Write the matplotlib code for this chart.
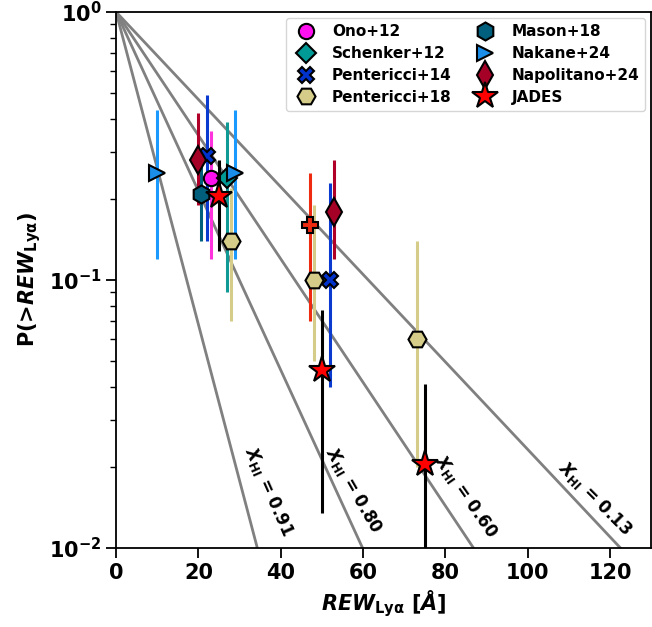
import numpy as np
import matplotlib
matplotlib.use("Agg")
import matplotlib.pyplot as plt

plt.rcParams['font.family'] = 'DejaVu Sans'
plt.rcParams['font.weight'] = 'bold'
plt.rcParams['mathtext.fontset'] = 'custom'
plt.rcParams['mathtext.rm'] = 'DejaVu Sans:bold'
plt.rcParams['mathtext.bf'] = 'DejaVu Sans:bold'
plt.rcParams['mathtext.it'] = 'DejaVu Sans:italic:bold'

# model curves: P(>W) = exp(-W / W0)
xhi_values = [0.91, 0.80, 0.60, 0.13]
w0_values = [7.45, 13.0, 18.85, 26.6]
label_x = [37.1, 57.6, 84.9, 116.2]
label_y = [0.0162, 0.0164, 0.0155, 0.0153]
label_rot = [-66, -60, -55, -45]

# observations (x, y, lower, upper)
ono_x = [23]
ono_y = [0.24]
ono_lo = [0.12]
ono_hi = [0.36]

schenker_x = [27]
schenker_y = [0.24]
schenker_lo = [0.09]
schenker_hi = [0.39]

pent14_x = [22, 52]
pent14_y = [0.29, 0.10]
pent14_lo = [0.14, 0.04]
pent14_hi = [0.49, 0.23]

pent18_x = [28, 48, 73]
pent18_y = [0.14, 0.10, 0.06]
pent18_lo = [0.07, 0.05, 0.02]
pent18_hi = [0.22, 0.19, 0.14]

mason_x = [20.7]
mason_y = [0.21]
mason_lo = [0.14]
mason_hi = [0.30]

nakane_x = [10, 28.8]
nakane_y = [0.25, 0.25]
nakane_lo = [0.12, 0.12]
nakane_hi = [0.43, 0.43]

napol_x = [20, 53]
napol_y = [0.28, 0.18]
napol_lo = [0.19, 0.12]
napol_hi = [0.42, 0.28]

other_x = [47]
other_y = [0.16]
other_lo = [0.07]
other_hi = [0.25]

jades_x = [25, 50, 75]
jades_y = [0.205, 0.046, 0.0205]
jades_lo = [0.128, 0.0135, 0.005]
jades_hi = [0.28, 0.077, 0.041]

fig = plt.figure(figsize=(6.52, 6.27), dpi=100)
ax = fig.add_axes([0.178, 0.126, 0.821, 0.855])

w = np.linspace(0, 130, 300)
for xhi, w0, lx, ly, rot in zip(xhi_values, w0_values, label_x, label_y, label_rot):
    ax.plot(w, np.exp(-w / w0), color='gray', lw=2, zorder=1)
    ax.text(lx, ly, r'$X_{\rm HI}$ = %.2f' % xhi, rotation=rot, fontsize=12,
            fontweight='bold', ha='center', va='center', zorder=2)


def plot_set(x, y, lo, hi, color, ecolor, marker, ms, label, z=3):
    y = np.array(y)
    yerr = [y - np.array(lo), np.array(hi) - y]
    ax.errorbar(x, y, yerr=yerr, fmt='none', ecolor=ecolor, elinewidth=2.2,
                capsize=0, zorder=z)
    ax.plot(x, y, linestyle='none', marker=marker, ms=ms, mfc=color,
            mec='black', mew=1.5, label=label, zorder=z + 0.5)


plot_set(ono_x, ono_y, ono_lo, ono_hi, '#ff10ee', '#ff33dd', 'o', 11, 'Ono+12')
plot_set(schenker_x, schenker_y, schenker_lo, schenker_hi, '#009a96', '#109a96', 'D', 10, 'Schenker+12')
plot_set(pent14_x, pent14_y, pent14_lo, pent14_hi, '#0033cc', '#0a3ad0', 'X', 12, 'Pentericci+14')
plot_set(pent18_x, pent18_y, pent18_lo, pent18_hi, '#d4cc88', '#d4cc88', 'H', 13, 'Pentericci+18')
plot_set(mason_x, mason_y, mason_lo, mason_hi, '#005f7c', '#005f7c', 'h', 13, 'Mason+18')
plot_set(nakane_x, nakane_y, nakane_lo, nakane_hi, '#1a8ee8', '#1a9aff', '>', 12, 'Nakane+24')
plot_set(napol_x, napol_y, napol_lo, napol_hi, '#a50026', '#b0002a', 'd', 14, 'Napolitano+24')
plot_set(other_x, other_y, other_lo, other_hi, '#ee2a10', '#ee2a10', 'P', 12, None)
plot_set(jades_x, jades_y, jades_lo, jades_hi, 'red', 'black', '*', 20, 'JADES', z=5)

ax.set_yscale('log')
ax.set_xlim(0, 130)
ax.set_ylim(0.01, 1)
ax.set_xticks([0, 20, 40, 60, 80, 100, 120])
ax.tick_params(axis='both', which='major', labelsize=15, length=7, width=1.3)
ax.tick_params(axis='both', which='minor', length=4, width=1)
for lab in ax.get_xticklabels() + ax.get_yticklabels():
    lab.set_fontweight('bold')
for sp in ax.spines.values():
    sp.set_linewidth(1.3)

ax.set_xlabel(r'$REW_{\rm Ly\alpha}$ [$Å$]', fontsize=15, fontweight='bold')
ax.set_ylabel(r'P(>$REW_{\rm Ly\alpha}$)', fontsize=15, fontweight='bold')

leg = ax.legend(loc='upper right', ncol=2, fontsize=11, frameon=True,
                handletextpad=0.8, columnspacing=1.3, borderaxespad=0.4,
                labelspacing=0.45, handlelength=1.8)
for t in leg.get_texts():
    t.set_fontweight('bold')

fig.savefig('out.png', dpi=100)
